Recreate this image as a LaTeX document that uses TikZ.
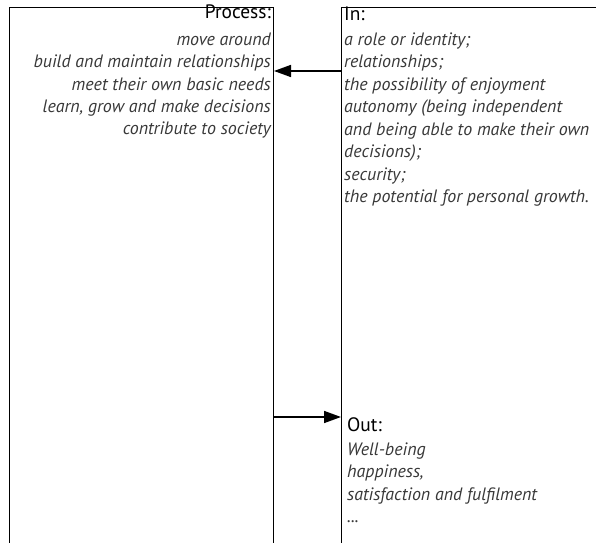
\documentclass[tikz,border=0pt]{standalone}
\usepackage{fontspec}
\setmainfont{PT Sans}
\usetikzlibrary{arrows.meta}

\begin{document}
\begin{tikzpicture}[x=1bp,y=1bp]
 	\tikzstyle{every node}+=[inner sep=0pt]
 	\tikzstyle{column}=[draw=black, line width=1bp, minimum height=620bp, anchor=north west]
 	\tikzstyle{head}=[font=\fontsize{19.5}{22.5}\selectfont, text=black]
 	\tikzstyle{items}=[font=\fontsize{18}{22.5}\selectfont\itshape, text=black!78]
 	\tikzstyle{link}=[draw=black, line width=1.6bp, -{Triangle[length=17bp,width=12bp]}]
 	\useasboundingbox (0,0) rectangle (596,543);
 	\clip (0,0) rectangle (596,543);
 	% the two columns, open at the foot
 	\node [column, minimum width=264bp] (procbox) at (9,536) {};
 	\node [column, minimum width=300bp] (inbox) at (341,536) {};
 	% left column (lists sit on the baseline of their last line)
 	\node [head, anchor=base east] (prochead) at (271,524) {Process:};
 	\node [items, align=right, anchor=base east] (proclist) at (271,408) {move around\\
 		build and maintain relationships\\
 		meet their own basic needs\\
 		learn, grow and make decisions\\
 		contribute to society};
 	% right column
 	\node [head, anchor=base west] (inhead) at (344,522) {In:};
 	\node [items, align=left, anchor=base west] (inlist) at (344,340.5) {a role or identity;\\
 		relationships;\\
 		the possibility of enjoyment\\
 		autonomy (being independent\\
 		and being able to make their own\\
 		decisions);\\
 		security;\\
 		the potential for personal growth.};
 	\node [head, anchor=base west] (outhead) at (347,111) {Out:};
 	\node [items, align=left, anchor=base west] (outlist) at (347,20.5) {Well-being\\
 		happiness,\\
 		satisfaction and fulfilment\\
 		...};
 	% arrows between the columns
 	\draw [link] (inbox.west |- 0,472) -- (procbox.east |- 0,472);
 	\draw [link] (procbox.east |- 0,126) -- (inbox.west |- 0,126);
\end{tikzpicture}
\end{document}
